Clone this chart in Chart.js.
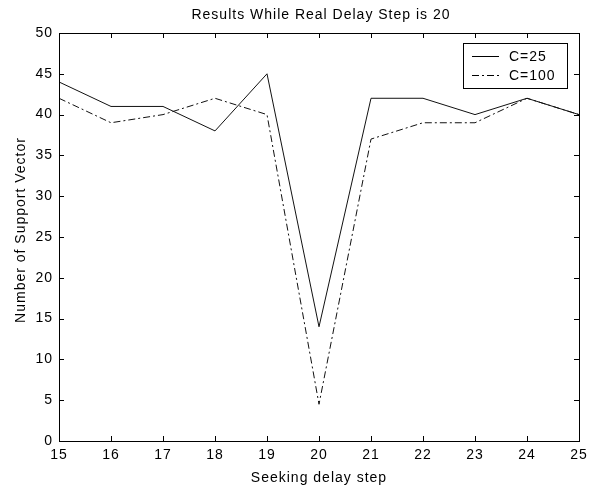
<!DOCTYPE html>
<html>
<head>
<meta charset="utf-8">
<script src="https://cdn.jsdelivr.net/npm/chart.js@4.4.0/dist/chart.umd.min.js"></script>
<style>
  html, body { margin: 0; padding: 0; background: #fff; overflow: hidden; }
  #wrap { width: 600px; height: 487px; }
</style>
</head>
<body>
<div id="wrap"><canvas id="chart"></canvas></div>
<script>
// Data
const delaySteps = ['15', '16', '17', '18', '19', '20', '21', '22', '23', '24', '25'];
const c25Values = [44, 41, 41, 38, 45, 14, 42, 42, 40, 42, 40];
const c100Values = [42, 39, 40, 42, 40, 4.5, 37, 39, 39, 42, 40];
const yTicks = [0, 5, 10, 15, 20, 25, 30, 35, 40, 45, 50];

const chartTitle = 'Results While Real Delay Step is 20';
const yTitle = 'Number of Support Vector';
const xTitle = 'Seeking delay step';

const FONT = 'Liberation Sans, Arial, sans-serif';
const SPACING = '1px';

// MATLAB style text is wide, so add a bit of letter spacing (canvas resets it on resize)
const wideText = {
    id: 'wideText',
    beforeUpdate(chart) { chart.ctx.letterSpacing = SPACING; },
    beforeDraw(chart) { chart.ctx.letterSpacing = SPACING; }
};

// Draws a box round the plot with inward ticks on all four sides, the titles and the legend box
const matlabAxes = {
    id: 'matlabAxes',
    afterDraw(chart) {
        const ctx = chart.ctx;
        const a = chart.chartArea;
        const xs = chart.scales.x;
        const ys = chart.scales.y;
        const len = 5;

        ctx.save();
        ctx.strokeStyle = '#000';
        ctx.lineWidth = 1;
        ctx.strokeRect(Math.round(a.left) + 0.5, Math.round(a.top) + 0.5,
            Math.round(a.right - a.left), Math.round(a.bottom - a.top));

        ctx.beginPath();
        delaySteps.forEach((s, i) => {
            const px = Math.round(xs.getPixelForValue(i)) + 0.5;
            ctx.moveTo(px, a.bottom); ctx.lineTo(px, a.bottom - len);
            ctx.moveTo(px, a.top); ctx.lineTo(px, a.top + len);
        });
        yTicks.forEach(v => {
            const py = Math.round(ys.getPixelForValue(v)) + 0.5;
            ctx.moveTo(a.left, py); ctx.lineTo(a.left + len, py);
            ctx.moveTo(a.right, py); ctx.lineTo(a.right - len, py);
        });
        ctx.stroke();

        ctx.font = '14px ' + FONT;
        ctx.letterSpacing = SPACING;
        ctx.fillStyle = '#000';
        ctx.textBaseline = 'middle';

        // chart title, centred over the plot
        ctx.textAlign = 'center';
        ctx.fillText(chartTitle, (a.left + a.right) / 2 + 2, 15);

        // y axis title
        ctx.save();
        ctx.translate(21, 230);
        ctx.rotate(-Math.PI / 2);
        ctx.fillText(yTitle, 0, 0);
        ctx.restore();

        // legend
        const lx = 463, ly = 43, lw = 104, lh = 45;
        ctx.textAlign = 'left';
        ctx.fillStyle = '#fff';
        ctx.fillRect(lx, ly, lw, lh);
        ctx.strokeRect(lx + 0.5, ly + 0.5, lw, lh);
        chart.data.datasets.forEach((ds, i) => {
            const rowY = ly + 13 + i * 19 + 0.5;
            ctx.beginPath();
            ctx.setLineDash(ds.borderDash || []);
            ctx.moveTo(lx + 9, rowY);
            ctx.lineTo(lx + 36, rowY);
            ctx.stroke();
            ctx.setLineDash([]);
            ctx.fillStyle = '#000';
            ctx.fillText(ds.label, lx + 46, rowY + 1);
        });
        ctx.restore();
    }
};

const ctx = document.getElementById('chart').getContext('2d');
new Chart(ctx, {
    type: 'line',
    data: {
        labels: delaySteps,
        datasets: [{
            label: 'C=25',
            data: c25Values,
            borderColor: '#111',
            borderWidth: 1,
            pointRadius: 0,
            tension: 0,
            fill: false
        }, {
            label: 'C=100',
            data: c100Values,
            borderColor: '#111',
            borderWidth: 1,
            borderDash: [7, 3, 2, 3],
            pointRadius: 0,
            tension: 0,
            fill: false
        }]
    },
    options: {
        responsive: true,
        maintainAspectRatio: false,
        animation: false,
        layout: { padding: { left: 0, right: 21, top: 33, bottom: 0 } },
        plugins: {
            legend: { display: false },
            tooltip: { enabled: false },
            title: { display: false }
        },
        scales: {
            x: {
                type: 'category',
                offset: false,
                grid: { display: false, drawTicks: false },
                border: { display: false },
                ticks: { color: '#000', font: { family: FONT, size: 14 }, padding: 6, maxRotation: 0, autoSkip: false },
                title: { display: true, text: xTitle, color: '#000', font: { family: FONT, size: 14 }, padding: { top: 0, bottom: 0 } },
                afterFit(scale) { scale.height = 46; }
            },
            y: {
                min: 0,
                max: 50,
                afterBuildTicks(scale) { scale.ticks = yTicks.map(v => ({ value: v })); },
                grid: { display: false, drawTicks: false },
                border: { display: false },
                ticks: { color: '#000', font: { family: FONT, size: 14 }, padding: 6 },
                afterFit(scale) { scale.width = 59; }
            }
        }
    },
    plugins: [wideText, matlabAxes]
});
</script>
</body>
</html>
